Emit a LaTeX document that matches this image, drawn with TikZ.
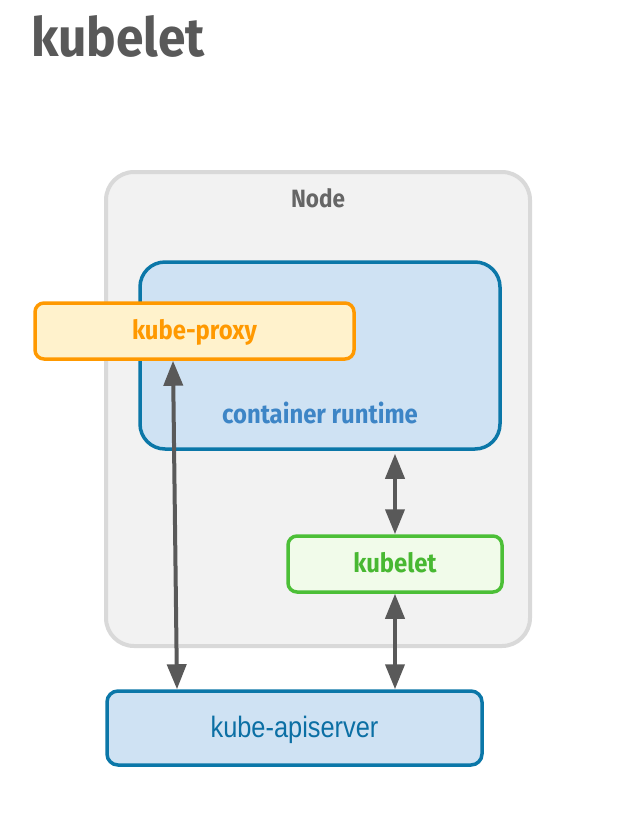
\documentclass[tikz,border=0pt]{standalone}
\usepackage{fontspec}
\usetikzlibrary{arrows.meta,positioning}
\setmainfont{Fira Sans}
\newfontfamily\boxfont{Fira Sans}[FakeStretch=0.9]
\newfontfamily\titlefont{Fira Sans}[FakeStretch=0.92]
\newfontfamily\apifont{Liberation Sans}[FakeStretch=0.86]

\definecolor{titlegray}{HTML}{595959}
\definecolor{nodefill}{HTML}{F2F2F2}
\definecolor{nodeline}{HTML}{D9D9D9}
\definecolor{nodetext}{HTML}{666666}
\definecolor{bluefill}{HTML}{CFE2F3}
\definecolor{blueline}{HTML}{0B77A8}
\definecolor{bluetext}{HTML}{3D85C6}
\definecolor{apitext}{HTML}{0B6FA4}
\definecolor{orangeline}{HTML}{FF9900}
\definecolor{orangefill}{HTML}{FFF2CC}
\definecolor{greenline}{HTML}{4CBF37}
\definecolor{greentext}{HTML}{48B832}
\definecolor{greenfill}{HTML}{F1FBEA}
\definecolor{arrowgray}{HTML}{595959}

\tikzset{
  box/.style={rectangle, draw, line width=3.5pt, inner sep=0pt,
    text height=20pt, text depth=3.5pt},
  link/.style={draw=arrowgray, line width=4pt,
    {Triangle[width=19pt,length=25pt]}-{Triangle[width=19pt,length=25pt]}}
}

\begin{document}
\begin{tikzpicture}[x=1pt, y=-1pt]
    \useasboundingbox (0,0) rectangle (627,815);

    % Titolo
    \node[anchor=base west, inner sep=0pt, text=titlegray,
          font=\titlefont\bfseries\fontsize{54}{60}\selectfont] (title) at (31,56) {kubelet};

    % Node
    \node[box, draw=nodeline, fill=nodefill, line width=4pt, rounded corners=28pt,
          minimum width=424pt, minimum height=474pt] (node) at (318,409) {};
    \node[anchor=base, inner sep=0pt, text=nodetext,
          font=\boxfont\bfseries\fontsize{25}{30}\selectfont]
          (nodelabel) at ([yshift=-37pt]node.north) {Node};

    % container runtime
    \node[box, draw=blueline, fill=bluefill, rounded corners=25pt,
          minimum width=360pt, minimum height=187pt] (cr) at (320,355.5) {};
    \node[anchor=base, inner sep=0pt, text=bluetext,
          font=\boxfont\bfseries\fontsize{26.5}{30}\selectfont]
          (crlabel) at (320,423) {container runtime};

    % kube-proxy, kubelet, kube-apiserver
    \node[box, draw=orangeline, fill=orangefill, text=orangeline, rounded corners=9pt,
          minimum width=319pt, minimum height=56pt,
          font=\boxfont\bfseries\fontsize{26.5}{30}\selectfont] (proxy) at (194.5,331) {kube-proxy};
    \node[box, draw=greenline, fill=greenfill, text=greentext, rounded corners=9pt,
          minimum width=214pt, minimum height=56pt,
          font=\boxfont\bfseries\fontsize{26.5}{30}\selectfont] (kubelet) at (395,564) {kubelet};
    \node[box, draw=blueline, fill=bluefill, text=apitext, rounded corners=11pt,
          minimum width=375pt, minimum height=74pt, text height=22pt, text depth=4pt,
          font=\apifont\fontsize{29.5}{34}\selectfont] (api) at (294.5,728) {kube-apiserver};

    % Frecce
    \draw[link] ([xshift=-21.5pt]proxy.south) -- ([xshift=-117.5pt]api.north);
    \draw[link, shorten <=3pt] (cr.south -| kubelet.north) -- (kubelet.north);
    \draw[link] (kubelet.south) -- (api.north -| kubelet.south);

\end{tikzpicture}
\end{document}
